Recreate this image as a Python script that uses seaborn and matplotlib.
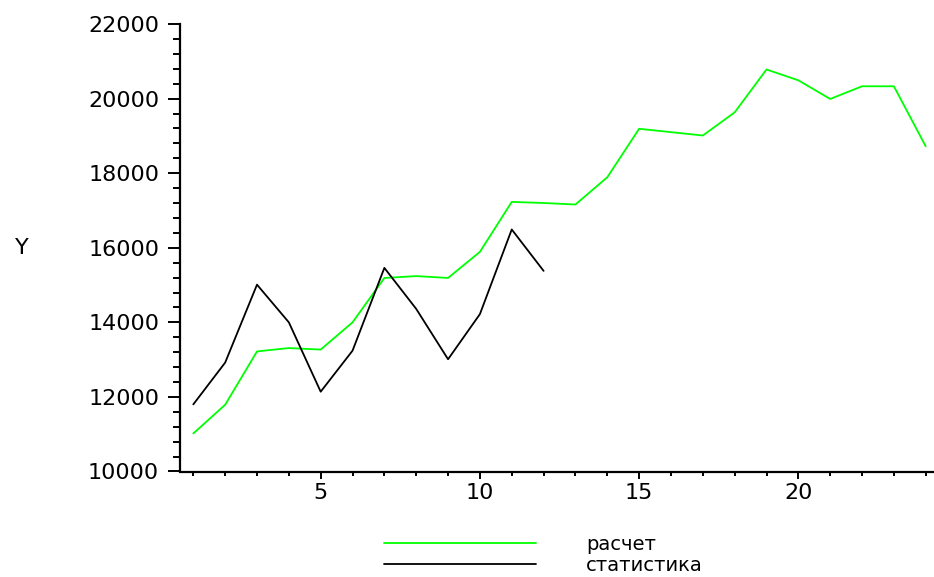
import matplotlib.pyplot as plt
import pandas as pd
import seaborn as sns
from matplotlib.ticker import MultipleLocator

# values
x_calc = list(range(1, 25))
y_calc = [11020, 11790, 13220, 13310, 13270, 14000, 15190, 15240, 15190, 15890,
          17230, 17200, 17160, 17890, 19190, 19100, 19010, 19630, 20780, 20490,
          19990, 20330, 20330, 18720]
x_stat = list(range(1, 13))
y_stat = [11800, 12920, 15010, 14000, 12140, 13240, 15460, 14360, 13010, 14220,
          16490, 15380]
labels = ["расчет", "статистика"]

df = pd.concat([
    pd.DataFrame({"x": x_calc, "y": y_calc, "series": labels[0]}),
    pd.DataFrame({"x": x_stat, "y": y_stat, "series": labels[1]}),
])

sns.set_style("ticks")
plt.rcParams["font.family"] = ["DejaVu Sans"]
plt.rcParams["text.color"] = "black"

fig = plt.figure(figsize=(9.34, 5.77), dpi=100)
ax = fig.add_axes([180 / 934, 1 - 471.5 / 577, 754 / 934, 447.5 / 577])

sns.lineplot(
    data=df, x="x", y="y", hue="series",
    palette={labels[0]: "#00ff00", labels[1]: "black"},
    linewidth=1.3, ax=ax, legend=True,
)

ax.set_xlim(0.582, 24.26)
ax.set_ylim(10000, 22000)

# ticks
ax.xaxis.set_major_locator(MultipleLocator(5))
ax.xaxis.set_minor_locator(MultipleLocator(1))
ax.yaxis.set_major_locator(MultipleLocator(2000))
ax.yaxis.set_minor_locator(MultipleLocator(400))
ax.tick_params(axis="both", which="both", color="black", labelcolor="black", width=1.4)
ax.tick_params(axis="y", which="major", length=9, pad=6, labelsize=16)
ax.tick_params(axis="y", which="minor", length=5)
ax.tick_params(axis="x", which="major", length=5, pad=3, labelsize=16)
ax.tick_params(axis="x", which="minor", length=3)

for s in ["top", "right"]:
    ax.spines[s].set_visible(False)
for s in ["left", "bottom"]:
    ax.spines[s].set_linewidth(1.6)
    ax.spines[s].set_color("black")

ax.set_xlabel("")
ax.set_ylabel("Y", rotation=0, fontsize=16, ha="center", va="center", color="black")
ax.yaxis.set_label_coords(-0.2095, 0.5)

# legend below the plot, kept just inside the bottom edge
ax.legend(
    loc="upper left", bbox_to_anchor=(384 / 934, 1 - 535 / 577),
    bbox_transform=fig.transFigure, frameon=False, fontsize=14,
    handlelength=7.8, handletextpad=2.6, labelspacing=0.08, borderpad=0,
    borderaxespad=0,
)

plt.savefig("out.png", dpi=100)
